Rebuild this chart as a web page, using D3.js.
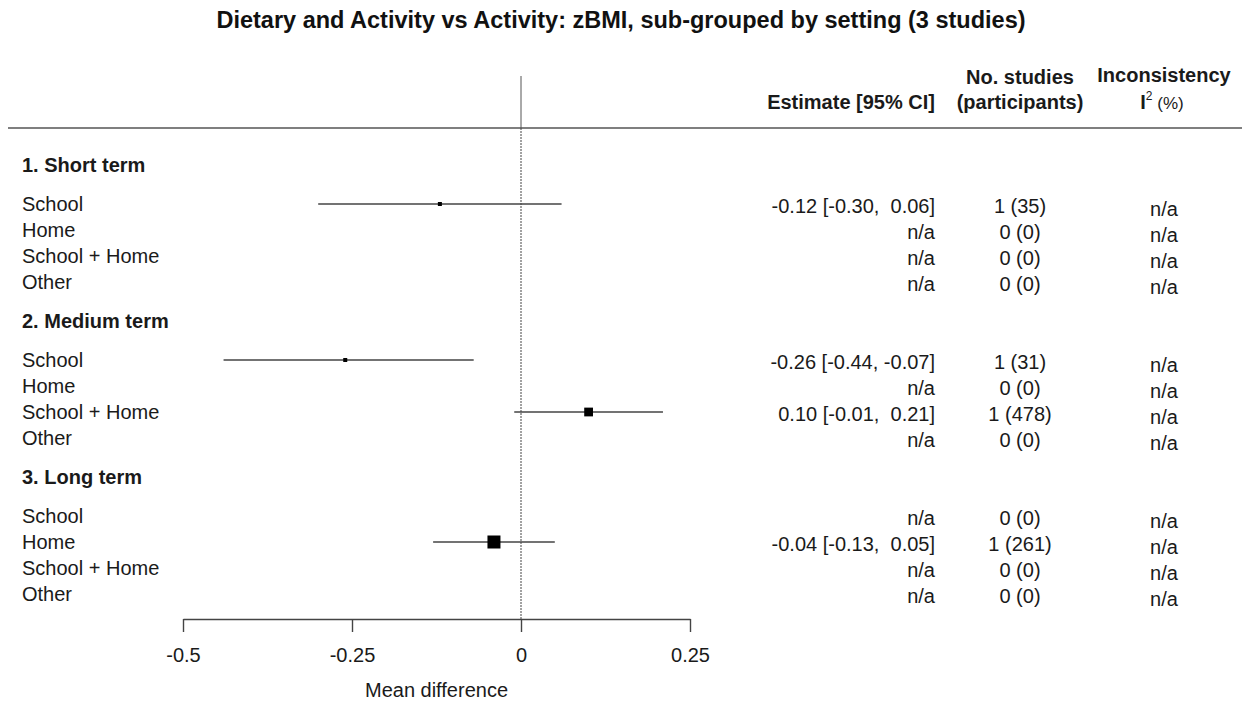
<!DOCTYPE html>
<html>
<head>
<meta charset="utf-8">
<script src="https://cdn.jsdelivr.net/npm/d3@7"></script>
<style>
  html, body { margin: 0; padding: 0; background: #fff; }
  svg { display: block; font-family: "Liberation Sans", Arial, sans-serif; }
</style>
</head>
<body>
<svg id="chart" width="1242" height="702"></svg>
<script>
// ---------- data ----------
const title = "Dietary and Activity vs Activity: zBMI, sub-grouped by setting (3 studies)";
const terms = ["1. Short term", "2. Medium term", "3. Long term"];
const settings = ["School", "Home", "School + Home", "Other"];
// per term, per setting (null = n/a)
const estimate = [
  [-0.12, null, null, null],
  [-0.26, null, 0.10, null],
  [null, -0.04, null, null]
];
const lower = [
  [-0.30, null, null, null],
  [-0.44, null, -0.01, null],
  [null, -0.13, null, null]
];
const upper = [
  [0.06, null, null, null],
  [-0.07, null, 0.21, null],
  [null, 0.05, null, null]
];
const nStudies = [
  [1, 0, 0, 0],
  [1, 0, 1, 0],
  [0, 1, 0, 0]
];
const participants = [
  [35, 0, 0, 0],
  [31, 0, 478, 0],
  [0, 261, 0, 0]
];
// relative (inverse-variance) weights used for box size
const weight = [
  [118, 0, 0, 0],
  [111, 0, 319, 0],
  [0, 473, 0, 0]
];
const xTicks = [-0.5, -0.25, 0, 0.25];
const xTickLabels = ["-0.5", "-0.25", "0", "0.25"];
const xLabel = "Mean difference";

// ---------- layout ----------
const svg = d3.select("#chart");
const textCol = "#1a1a1a";
const fs = 20;

const x = d3.scaleLinear().domain([-0.5, 0.25]).range([183, 690]);
const y = d3.scaleLinear().domain([0, 1]).range([165, 191]); // one line unit = 26px
const boxSize = d3.scaleLinear().domain([0, 473]).range([0, 13]);

const fmt = v => (v < 0 ? "-" : "") + Math.abs(v).toFixed(2);
const fmtCI = (e, l, u) => `${fmt(e)} [${fmt(l)}, ${u >= 0 ? "\u00a0" : ""}${fmt(u)}]`;

// title
svg.append("text")
  .attr("x", 621).attr("y", 28)
  .attr("text-anchor", "middle")
  .attr("font-size", 23.5).attr("font-weight", "bold")
  .attr("fill", "#111")
  .text(title);

// headers
const colEst = 935, colN = 1020, colI = 1164;
svg.append("text").attr("x", colEst).attr("y", 109).attr("text-anchor", "end")
  .attr("font-size", fs).attr("font-weight", "bold").attr("fill", textCol)
  .text("Estimate [95% CI]");
svg.append("text").attr("x", colN).attr("y", 84).attr("text-anchor", "middle")
  .attr("font-size", fs).attr("font-weight", "bold").attr("fill", textCol)
  .text("No. studies");
svg.append("text").attr("x", colN).attr("y", 109).attr("text-anchor", "middle")
  .attr("font-size", fs).attr("font-weight", "bold").attr("fill", textCol)
  .text("(participants)");
svg.append("text").attr("x", 1164).attr("y", 82).attr("text-anchor", "middle")
  .attr("font-size", fs).attr("font-weight", "bold").attr("fill", textCol)
  .text("Inconsistency");
const iHead = svg.append("text").attr("x", 1162).attr("y", 109).attr("text-anchor", "middle")
  .attr("fill", textCol);
iHead.append("tspan").attr("font-size", fs).attr("font-weight", "bold").text("I");
iHead.append("tspan").attr("font-size", 12).attr("dy", -9).text("2");
iHead.append("tspan").attr("font-size", 17).attr("dy", 9).text(" (%)");

// header rule
svg.append("line").attr("x1", 8).attr("x2", 1242).attr("y1", 128).attr("y2", 128)
  .attr("stroke", "#555").attr("stroke-width", 1.6);

// reference line at 0
svg.append("line").attr("x1", x(0)).attr("x2", x(0)).attr("y1", 76).attr("y2", 128)
  .attr("stroke", "#555").attr("stroke-width", 1);
svg.append("line").attr("x1", x(0)).attr("x2", x(0)).attr("y1", 128).attr("y2", 620)
  .attr("stroke", "#444").attr("stroke-width", 1).attr("stroke-dasharray", "2,1");

// rows
terms.forEach((t, ti) => {
  const u0 = ti * 6;
  svg.append("text").attr("x", 22).attr("y", y(u0)).attr("dy", "0.35em")
    .attr("font-size", fs).attr("font-weight", "bold").attr("fill", textCol)
    .text(t);
  settings.forEach((s, si) => {
    const yy = y(u0 + 1.5 + si);
    svg.append("text").attr("x", 22).attr("y", yy).attr("dy", "0.35em")
      .attr("font-size", fs).attr("fill", textCol).text(s);
    const e = estimate[ti][si];
    const estText = e == null ? "n/a" : fmtCI(e, lower[ti][si], upper[ti][si]);
    svg.append("text").attr("x", colEst).attr("y", yy + 2).attr("dy", "0.35em")
      .attr("text-anchor", "end").attr("font-size", fs).attr("fill", textCol)
      .text(estText);
    svg.append("text").attr("x", colN).attr("y", yy + 2).attr("dy", "0.35em")
      .attr("text-anchor", "middle").attr("font-size", fs).attr("fill", textCol)
      .text(`${nStudies[ti][si]} (${participants[ti][si]})`);
    svg.append("text").attr("x", colI).attr("y", yy + 5).attr("dy", "0.35em")
      .attr("text-anchor", "middle").attr("font-size", fs).attr("fill", textCol)
      .text("n/a");
    if (e != null) {
      svg.append("line")
        .attr("x1", x(lower[ti][si])).attr("x2", x(upper[ti][si]))
        .attr("y1", yy).attr("y2", yy)
        .attr("stroke", "#444").attr("stroke-width", 1.4);
      const b = Math.max(4, boxSize(weight[ti][si]));
      svg.append("rect")
        .attr("x", x(e) - b / 2).attr("y", yy - b / 2)
        .attr("width", b).attr("height", b)
        .attr("fill", "#000");
    }
  });
});

// x axis
const axisY = 619;
const ax = svg.append("g").attr("transform", `translate(0,${axisY})`)
  .call(d3.axisBottom(x).tickValues(xTicks)
    .tickFormat((d, i) => xTickLabels[i]).tickSize(13).tickPadding(16).tickSizeOuter(0));
ax.select(".domain").attr("stroke", "#444").attr("stroke-width", 1.4);
ax.selectAll(".tick line").attr("stroke", "#444").attr("stroke-width", 1.4);
ax.selectAll(".tick text").attr("font-size", fs).attr("fill", textCol)
  .attr("font-family", "Liberation Sans, Arial, sans-serif");

svg.append("text").attr("x", (x(-0.5) + x(0.25)) / 2).attr("y", 697)
  .attr("text-anchor", "middle").attr("font-size", fs).attr("fill", textCol)
  .text(xLabel);
</script>
</body>
</html>
